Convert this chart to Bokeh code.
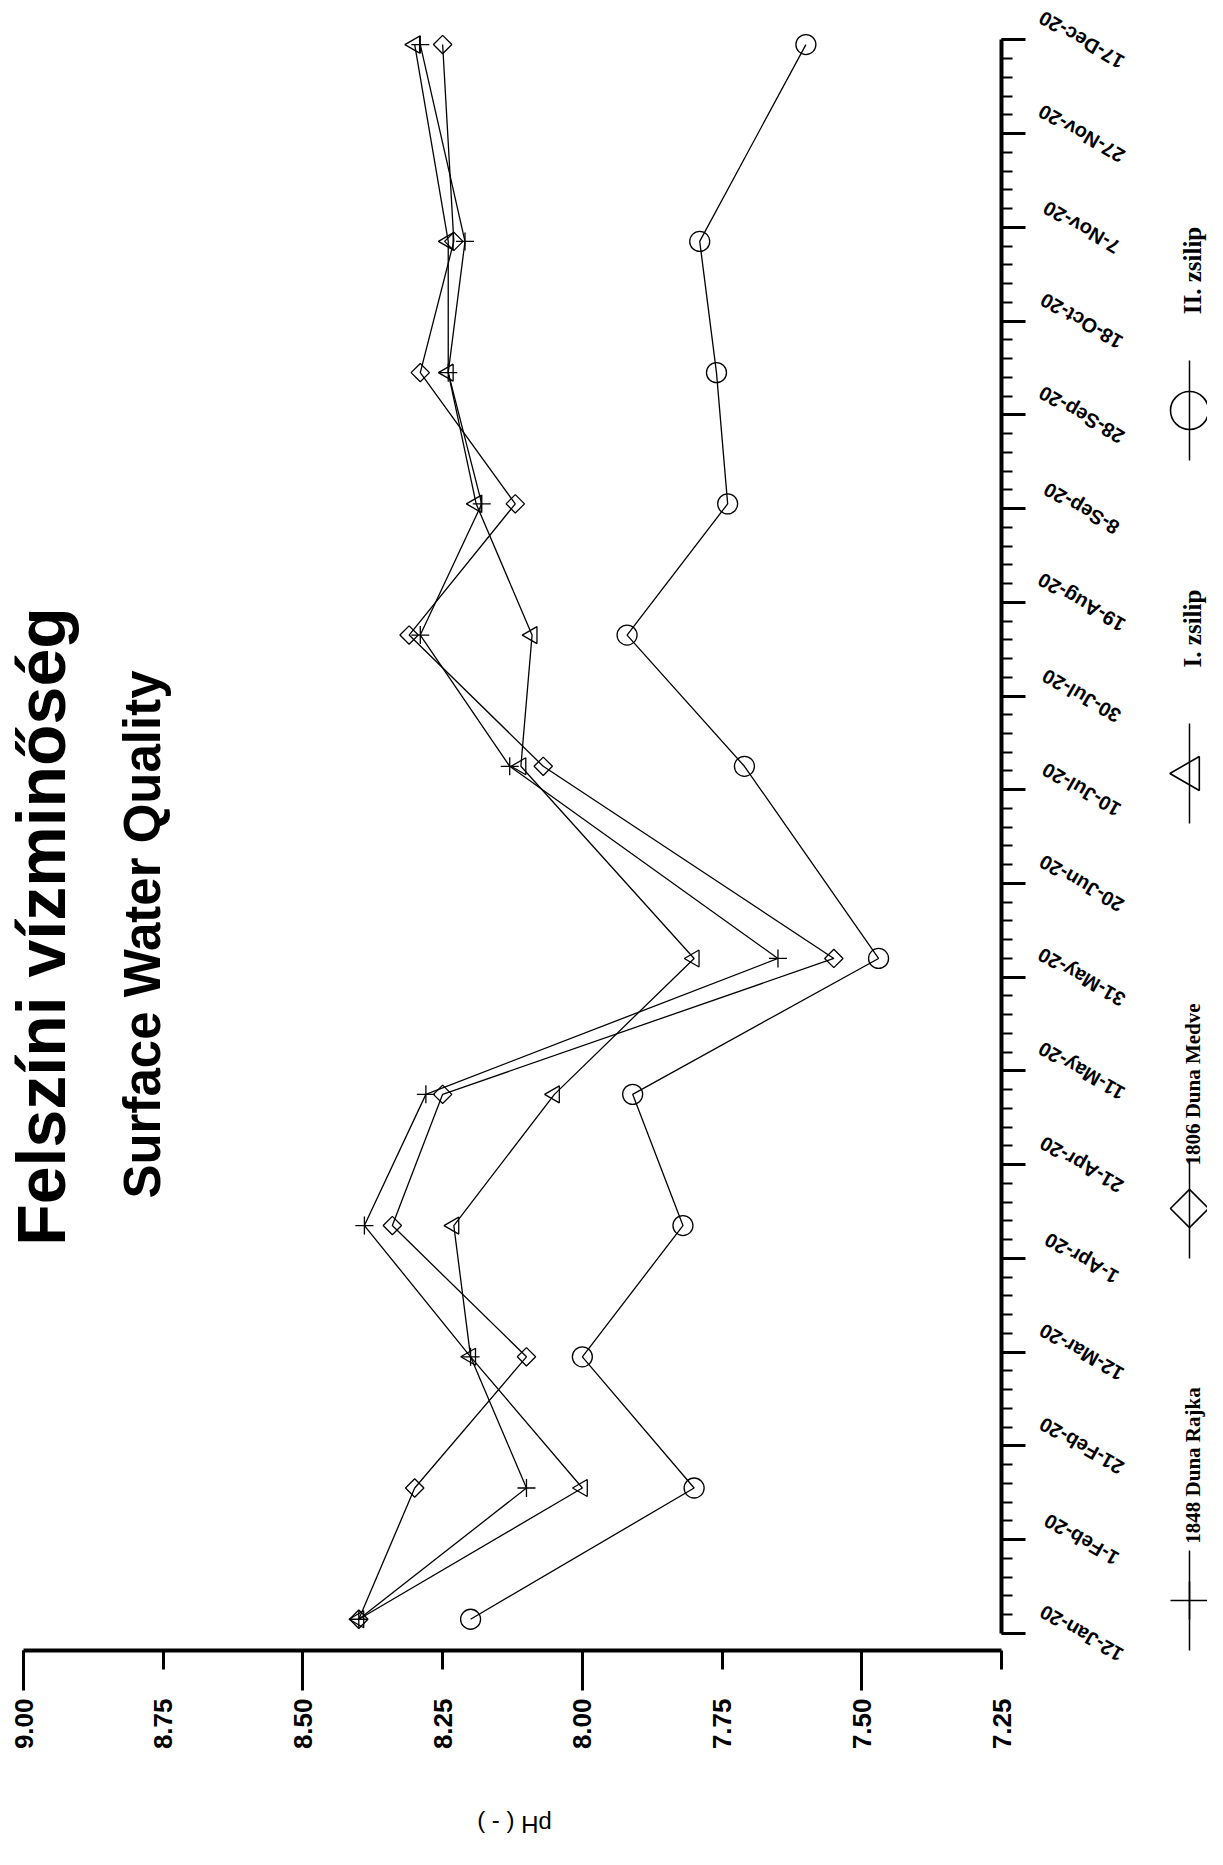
import numpy as np
import pandas as pd
from bokeh.plotting import figure
from bokeh.models import (Range1d, LinearAxis, FixedTicker, PrintfTickFormatter,
                          ColumnDataSource, LabelSet, Label)
from bokeh.core.properties import value
from bokeh.embed import file_html
from bokeh.resources import INLINE

# ---------------- data ----------------
sample_dates = ["2020-01-15", "2020-02-12", "2020-03-11", "2020-04-08", "2020-05-06", "2020-06-04",
                "2020-07-15", "2020-08-12", "2020-09-09", "2020-10-07", "2020-11-04", "2020-12-16"]
ph_rajka = [8.40, 8.10, 8.20, 8.39, 8.28, 7.65, 8.13, 8.29, 8.18, 8.24, 8.21, 8.29]
ph_medve = [8.40, 8.30, 8.10, 8.34, 8.25, 7.55, 8.07, 8.31, 8.12, 8.29, 8.23, 8.25]
ph_zsilip1 = [8.40, 8.00, 8.20, 8.23, 8.05, 7.80, 8.11, 8.09, 8.19, 8.24, 8.24, 8.30]
ph_zsilip2 = [8.20, 7.80, 8.00, 7.82, 7.91, 7.47, 7.71, 7.92, 7.74, 7.76, 7.79, 7.60]
series_names = ["1848 Duna Rajka", "1806 Duna Medve", "I. zsilip", "II. zsilip"]

date_ticks = ["2020-01-12", "2020-02-01", "2020-02-21", "2020-03-12", "2020-04-01", "2020-04-21",
              "2020-05-11", "2020-05-31", "2020-06-20", "2020-07-10", "2020-07-30", "2020-08-19",
              "2020-09-08", "2020-09-28", "2020-10-18", "2020-11-07", "2020-11-27", "2020-12-17"]
date_tick_labels = ["12-Jan-20", "1-Feb-20", "21-Feb-20", "12-Mar-20", "1-Apr-20", "21-Apr-20",
                    "11-May-20", "31-May-20", "20-Jun-20", "10-Jul-20", "30-Jul-20", "19-Aug-20",
                    "8-Sep-20", "28-Sep-20", "18-Oct-20", "7-Nov-20", "27-Nov-20", "17-Dec-20"]
ph_ticks = [9.00, 8.75, 8.50, 8.25, 8.00, 7.75, 7.50, 7.25]

title_main = "Felszíni vízminőség"
title_sub = "Surface Water Quality"
ph_axis_title = "pH ( - )"

# ---------------- geometry (page pixels) ----------------
FIG_W, FIG_H = 1207, 1849
FRAME_L, FRAME_T = 8, 10
FRAME_R = 8 + FIG_W
FRAME_B = 8 + FIG_H                 # frame fills the canvas downwards
PH_LEFT_PX, PH_RIGHT_PX = 31, 1009  # page x of the first and last pH tick
PX_PH = (PH_RIGHT_PX - PH_LEFT_PX) / (max(ph_ticks) - min(ph_ticks))
PX_DAY = 4.6865                     # pixels per day
JAN12_PY = 1640.8                   # page y of the first date tick
AXIS_PY = 1658                      # page y of the pH axis line

sample_day = pd.to_datetime(sample_dates).dayofyear.to_numpy().astype(float)
tick_days = pd.to_datetime(date_ticks).dayofyear.to_numpy().astype(float)
minor_days = np.arange(tick_days[0], tick_days[-1] + 1, 4.0)


def ph_at(px):
    return max(ph_ticks) - (px - PH_LEFT_PX) / PX_PH


def day_at(py):
    return tick_days[0] + (JAN12_PY - py) / PX_DAY


p = figure(width=FIG_W, height=FIG_H, output_backend="svg", toolbar_location=None,
           x_range=Range1d(ph_at(FRAME_L), ph_at(FRAME_R)),
           y_range=Range1d(day_at(FRAME_B), day_at(FRAME_T)),
           x_axis_location=None, y_axis_location=None,
           min_border_left=FRAME_L - 8, min_border_right=0,
           min_border_top=FRAME_T - 8, min_border_bottom=0,
           outline_line_color=None, background_fill_color="white", border_fill_color="white")
p.grid.visible = False

# pH axis (horizontal, at the foot of the date range)
ph_axis = LinearAxis(
    fixed_location=day_at(AXIS_PY),
    ticker=FixedTicker(ticks=ph_ticks, minor_ticks=ph_ticks[::2]),
    formatter=PrintfTickFormatter(format="%.2f"),
    bounds=(min(ph_ticks), max(ph_ticks)),
    axis_line_width=4, axis_line_color="black",
    major_tick_in=0, major_tick_out=19, major_tick_line_width=3,
    minor_tick_in=0, minor_tick_out=40, minor_tick_line_width=3,
    major_label_orientation=np.pi / 2, major_label_standoff=8,
    major_label_text_font="Liberation Sans", major_label_text_font_style="bold",
    major_label_text_font_size="26px", major_label_text_color="black")
p.add_layout(ph_axis, "below")

# date axis (drawn at pH 7.25, ticks pointing right)
date_axis = LinearAxis(
    fixed_location=min(ph_ticks),
    ticker=FixedTicker(ticks=list(tick_days), minor_ticks=list(minor_days)),
    bounds=(tick_days[0], tick_days[-1]),
    axis_line_width=4, axis_line_color="black",
    major_tick_in=24, major_tick_out=0, major_tick_line_width=3,
    minor_tick_in=11, minor_tick_out=0, minor_tick_line_width=2,
    major_label_text_font_size="0px", major_label_text_alpha=0)
p.add_layout(date_axis, "left")

date_src = ColumnDataSource(dict(day=tick_days, text=date_tick_labels))
p.add_layout(LabelSet(x=min(ph_ticks), y="day", text="text", source=date_src,
                      x_offset=80, angle=150, angle_units="deg",
                      text_align="center", text_baseline="middle",
                      text_font=value("Liberation Sans"), text_font_style="bold",
                      text_font_size="20px", text_color="black"))

# series
series_vals = [ph_rajka, ph_medve, ph_zsilip1, ph_zsilip2]
markers = ["cross", "square", "triangle", "circle"]
angles = [0, 45, 90, 0]
sizes = [18, 13, 17, 20]
for vals, mk, ang, sz in zip(series_vals, markers, angles, sizes):
    src = ColumnDataSource(dict(ph=vals, day=sample_day))
    p.line("ph", "day", source=src, line_color="black", line_width=1.3)
    p.scatter("ph", "day", source=src, marker=mk, size=sz, angle=ang, angle_units="deg",
              fill_color=None, line_color="black", line_width=1.3)

# legend (rotated, drawn by hand)
leg_px = 1197
leg_marker_py = [1608, 1216, 781, 418]
leg_text_py = [1473, 1092, 636, 278]
leg_sizes = [38, 27, 34, 38]
leg_font = ["21px", "21px", "25px", "25px"]
for i in range(len(series_names)):
    py = leg_marker_py[i]
    p.segment(x0=[ph_at(leg_px)], y0=[day_at(py + 50)], x1=[ph_at(leg_px)], y1=[day_at(py - 50)],
              line_color="black", line_width=1.5)
    p.scatter(x=[ph_at(leg_px)], y=[day_at(py)], marker=markers[i], size=leg_sizes[i],
              angle=angles[i], angle_units="deg", fill_color=None, line_color="black", line_width=1.6)
    p.text(x=[ph_at(leg_px + 3)], y=[day_at(leg_text_py[i])], text=[series_names[i]],
           angle=90, angle_units="deg", text_align="center", text_baseline="middle",
           text_font=value("Liberation Serif"), text_font_style="bold", text_font_size=leg_font[i],
           text_color="black")

# titles
p.add_layout(Label(x=ph_at(48), y=day_at(934), text=title_main, angle=90, angle_units="deg",
                   text_align="center", text_baseline="middle", text_font="Liberation Sans",
                   text_font_style="bold", text_font_size="68px", text_color="black"))
p.add_layout(Label(x=ph_at(150), y=day_at(942), text=title_sub, angle=90, angle_units="deg",
                   text_align="center", text_baseline="middle", text_font="Liberation Sans",
                   text_font_style="bold", text_font_size="51px", text_color="black"))
p.add_layout(Label(x=ph_at(522), y=day_at(1832), text=ph_axis_title, angle=180, angle_units="deg",
                   text_align="center", text_baseline="middle", text_font="Liberation Sans",
                   text_font_size="24px", text_color="black"))

open("out.html", "w").write(file_html(p, INLINE))
